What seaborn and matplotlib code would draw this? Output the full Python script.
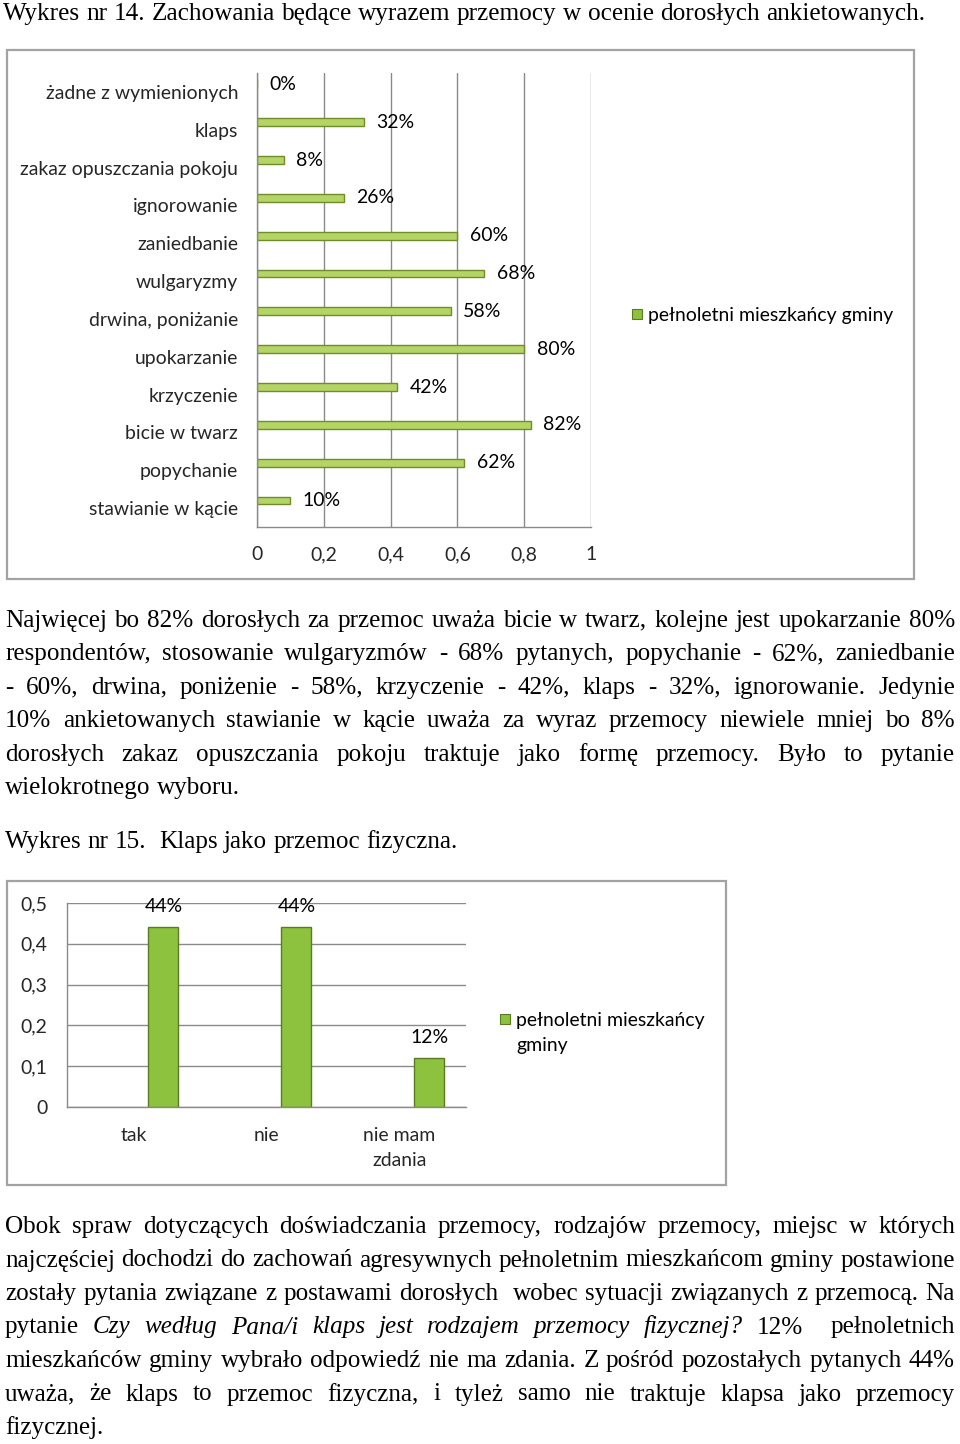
import numpy as np
import pandas as pd
import seaborn as sns
import matplotlib
matplotlib.use("Agg")
import matplotlib.pyplot as plt
from matplotlib.patches import Rectangle

W, H = 960, 1444

# chart 14 data (top to bottom)
behaviours = ["żadne z wymienionych", "klaps", "zakaz opuszczania pokoju", "ignorowanie",
              "zaniedbanie", "wulgaryzmy", "drwina, poniżanie", "upokarzanie",
              "krzyczenie", "bicie w twarz", "popychanie", "stawianie w kącie"]
behaviour_share = [0.00, 0.32, 0.08, 0.26, 0.60, 0.68, 0.58, 0.80, 0.42, 0.82, 0.62, 0.10]
x_ticks_1 = [0, 0.2, 0.4, 0.6, 0.8, 1.0]
x_tick_labels_1 = ["0", "0,2", "0,4", "0,6", "0,8", "1"]

# chart 15 data
answers = ["tak", "nie", "nie mam\nzdania"]
answer_share = [0.44, 0.44, 0.12]
y_ticks_2 = [0, 0.1, 0.2, 0.3, 0.4, 0.5]
y_tick_labels_2 = ["0", "0,1", "0,2", "0,3", "0,4", "0,5"]

series_name = "pełnoletni mieszkańcy gminy"

title_14 = "Wykres nr 14. Zachowania będące wyrazem przemocy w ocenie dorosłych ankietowanych."
title_15 = "Wykres nr 15.  Klaps jako przemoc fizyczna."
para_1 = [
    "Najwięcej bo 82% dorosłych za przemoc uważa bicie w twarz, kolejne jest upokarzanie 80%",
    "respondentów, stosowanie wulgaryzmów - 68% pytanych, popychanie - 62%, zaniedbanie",
    "- 60%, drwina, poniżenie - 58%, krzyczenie - 42%, klaps - 32%, ignorowanie. Jedynie",
    "10% ankietowanych stawianie w kącie uważa za wyraz przemocy niewiele mniej bo 8%",
    "dorosłych zakaz opuszczania pokoju traktuje jako formę przemocy. Było to pytanie",
    "wielokrotnego wyboru.",
]
para_2 = [
    "Obok spraw dotyczących doświadczania przemocy, rodzajów przemocy, miejsc w których",
    "najczęściej dochodzi do zachowań agresywnych pełnoletnim mieszkańcom gminy postawione",
    "zostały pytania związane z postawami dorosłych  wobec sytuacji związanych z przemocą. Na",
    "pytanie *Czy według Pana/i klaps jest rodzajem przemocy fizycznej?* 12%  pełnoletnich",
    "mieszkańców gminy wybrało odpowiedź nie ma zdania. Z pośród pozostałych pytanych 44%",
    "uważa, że klaps to przemoc fizyczna, i tyleż samo nie traktuje klapsa jako przemocy",
    "fizycznej.",
]

sns.set_style("white")
plt.rcParams["font.family"] = ["Lato", "DejaVu Sans"]

SERIF = ["Liberation Serif", "DejaVu Serif"]
CHART = ["Lato", "DejaVu Sans"]
grid_gray = "#8a8a8a"
frame_gray = "#a3a3a3"
light_green, light_edge = "#b4d465", "#6f8d2b"
dark_green, dark_edge = "#8cc23d", "#5b7b22"

fig = plt.figure(figsize=(W / 100, H / 100), dpi=100)
renderer = fig.canvas.get_renderer()


def rect(l, t, r, b):
    return [l / W, 1 - b / H, (r - l) / W, (b - t) / H]


def text_width(s, size, family, style="normal"):
    if s == "":
        return 0.0
    t = fig.text(0, 0, s, size=size, family=family, style=style)
    w = t.get_window_extent(renderer).width
    t.remove()
    return w


def fit_size(s, family, target):
    return 20 * target / text_width(s, 20, family)


def draw_line(line, base_y, size, justify=True, x0=5, x1=955):
    words, styles, italic = [], [], False
    for w in line.split(" "):
        st = italic
        if w.startswith("*"):
            st, italic, w = True, True, w[1:]
        if w.endswith("*"):
            w, italic = w[:-1], False
        words.append(w)
        styles.append("italic" if st else "normal")
    for _ in range(3):
        widths = [text_width(w, size, SERIF, s) for w, s in zip(words, styles)]
        space = text_width("a a", size, SERIF) - text_width("aa", size, SERIF)
        if not justify:
            gap = space
            break
        gap = (x1 - x0 - sum(widths)) / (len(words) - 1)
        if gap >= 0.55 * space:
            break
        size *= (x1 - x0 - (len(words) - 1) * 0.6 * space) / sum(widths)
    x = x0
    for w, s, wd in zip(words, styles, widths):
        if w:
            fig.text(x / W, 1 - base_y / H, w, size=size, family=SERIF, style=s,
                     va="baseline", ha="left", color="black")
        x += wd + gap


# ---- headings and paragraphs
draw_line(title_14, 20, fit_size(title_14, SERIF, 919), justify=False, x0=3)
body_size = fit_size(title_15, SERIF, 454)
draw_line(title_15, 848, body_size, justify=False)
for k, line in enumerate(para_1):
    draw_line(line, 627 + 33.4 * k, body_size, justify=k < len(para_1) - 1)
for k, line in enumerate(para_2):
    draw_line(line, 1233 + 33.5 * k, body_size, justify=k < len(para_2) - 1)

chart_size = fit_size(behaviours[0], CHART, 192)

# ---- frames
for l, t, r, b in [(7, 50, 914, 579), (7, 881, 726, 1185)]:
    fig.add_artist(Rectangle((l / W, 1 - b / H), (r - l) / W, (b - t) / H,
                             transform=fig.transFigure, fill=False,
                             edgecolor=frame_gray, lw=1.6))

# ---- chart 14
n1 = len(behaviours)
ax1 = fig.add_axes(rect(257, 73, 591, 527))
df1 = pd.DataFrame({"share": behaviour_share, "pos": np.arange(n1) - 0.2})
sns.barplot(data=df1, x="share", y="pos", orient="y", native_scale=True, width=0.21,
            color=light_green, edgecolor=light_edge, linewidth=1, saturation=1, ax=ax1)
ax1.set_xlim(0, 1)
ax1.set_ylim(n1 - 0.5, -0.5)
ax1.set_xticks(x_ticks_1, x_tick_labels_1)
ax1.set_yticks(np.arange(n1 + 1) - 0.5, [""] * (n1 + 1))
ax1.set_yticks(np.arange(n1), behaviours, minor=True)
ax1.tick_params(axis="y", which="major", length=5, color=grid_gray, width=1)
ax1.tick_params(axis="y", which="minor", length=0, pad=19 * 0.72, labelsize=chart_size)
ax1.tick_params(axis="x", length=5, color=grid_gray, width=1, pad=12 * 0.72,
                labelsize=chart_size)
ax1.xaxis.grid(True, color=grid_gray, lw=1)
ax1.yaxis.grid(False)
ax1.set_axisbelow(True)
ax1.set_xlabel("")
ax1.set_ylabel("")
for side in ["top", "right"]:
    ax1.spines[side].set_visible(False)
for side in ["left", "bottom"]:
    ax1.spines[side].set_color(grid_gray)
    ax1.spines[side].set_linewidth(1)
for v, p in zip(df1["share"], df1["pos"]):
    ax1.annotate(f"{round(v * 100)}%", xy=(v, p), xytext=(9, 0), textcoords="offset points",
                 va="center", ha="left", size=chart_size, color="black")

# ---- chart 15
n2 = len(answers)
ax2 = fig.add_axes(rect(67, 903, 466, 1107))
df2 = pd.DataFrame({"pos": np.arange(n2) + 0.225, "share": answer_share})
sns.barplot(data=df2, x="pos", y="share", native_scale=True, width=0.225,
            color=dark_green, edgecolor=dark_edge, linewidth=1, saturation=1, ax=ax2)
ax2.set_xlim(-0.5, n2 - 0.5)
ax2.set_ylim(0, 0.5)
ax2.set_yticks(y_ticks_2, y_tick_labels_2)
ax2.set_xticks(np.arange(n2 + 1) - 0.5, [""] * (n2 + 1))
ax2.set_xticks(np.arange(n2), answers, minor=True)
ax2.tick_params(axis="x", which="major", length=7, color=grid_gray, width=1)
ax2.tick_params(axis="x", which="minor", length=0, pad=20 * 0.72, labelsize=chart_size)
ax2.tick_params(axis="y", length=7, color=grid_gray, width=1, pad=10 * 0.72,
                labelsize=chart_size)
for lab in ax2.get_xticklabels(minor=True):
    lab.set_linespacing(1.6)
ax2.yaxis.grid(True, color=grid_gray, lw=1)
ax2.xaxis.grid(False)
ax2.set_axisbelow(True)
ax2.set_xlabel("")
ax2.set_ylabel("")
for side in ["top", "right"]:
    ax2.spines[side].set_visible(False)
for side in ["left", "bottom"]:
    ax2.spines[side].set_color(grid_gray)
    ax2.spines[side].set_linewidth(1)
for p, v in zip(df2["pos"], df2["share"]):
    ax2.annotate(f"{round(v * 100)}%", xy=(p, v), xytext=(0, 15), textcoords="offset points",
                 va="center", ha="center", size=chart_size, color="black")

# ---- legends
for mx, my, label in [(632, 314, series_name), (500, 1019, "pełnoletni mieszkańcy\ngminy")]:
    fig.add_artist(Rectangle(((mx) / W, 1 - (my + 5) / H), 10 / W, 10 / H,
                             transform=fig.transFigure, facecolor=dark_green,
                             edgecolor=dark_edge, lw=0.8))
    fig.text((mx + 16) / W, 1 - (my - 7) / H, label, size=chart_size, family=CHART,
             va="top", ha="left", linespacing=1.6, color="black")

fig.savefig("out.png", dpi=100)
